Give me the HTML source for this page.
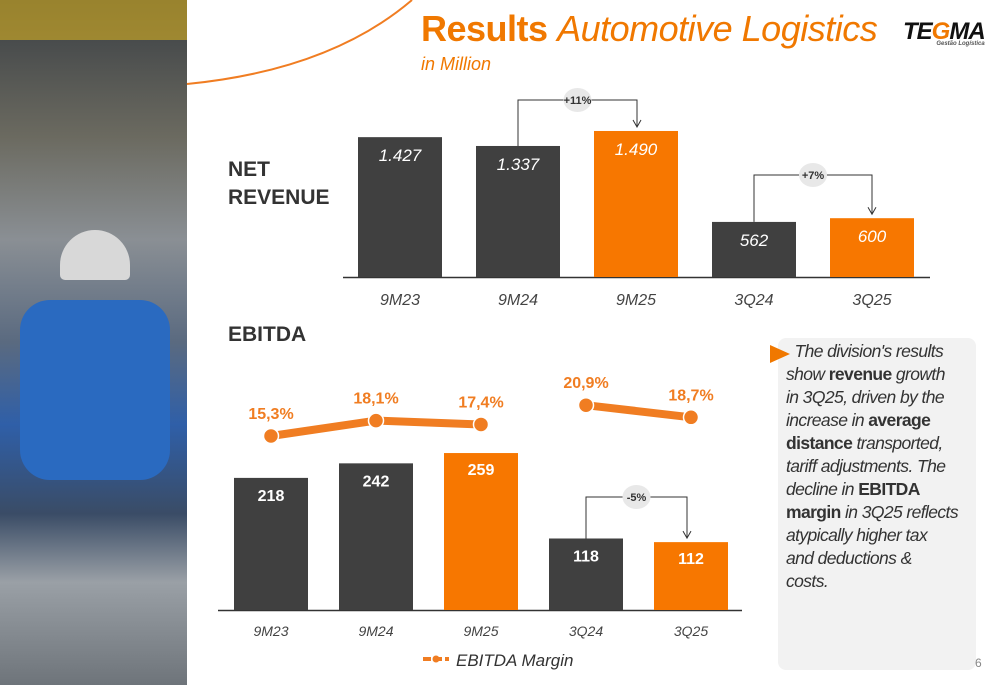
<!DOCTYPE html>
<html><head><meta charset="utf-8"><style>
body{margin:0;width:1000px;height:685px;overflow:hidden;background:#fff;font-family:"Liberation Sans",sans-serif;position:relative}
.abs{position:absolute}
</style></head><body>
<div class="abs" style="left:0;top:0;width:187px;height:685px;background:linear-gradient(180deg,#3a3f44 0%,#6b6a60 20%,#8a8f94 35%,#5a6a80 50%,#2f5fa8 62%,#3a4c66 75%,#9aa0a6 85%,#6e747a 100%)">
 <div class="abs" style="left:60px;top:230px;width:70px;height:50px;border-radius:35px 35px 5px 5px;background:#d8d8d8"></div>
 <div class="abs" style="left:20px;top:300px;width:150px;height:180px;background:#2a6ac0;border-radius:30px"></div>
 <div class="abs" style="left:0;top:0;width:187px;height:40px;background:#d8b020;opacity:.6"></div>
</div>
<svg class="abs" style="left:0;top:0" width="1000" height="685">
 <path d="M187 84 Q330 70 412 0" fill="none" stroke="#f07d22" stroke-width="2"/>
 <g id="rev"></g><g id="ebit"></g>
</svg>
<div class="abs" style="left:421px;top:8px;font-size:36px;color:#f07800;white-space:nowrap;letter-spacing:-0.5px"><b>Results</b> <i>Automotive Logistics</i></div>
<div class="abs" style="left:421px;top:54px;font-size:18px;color:#f07800;font-style:italic">in Million</div>
<div class="abs" style="left:903px;top:18px;font-size:24px;font-weight:bold;font-style:italic;color:#111;letter-spacing:-1px">TE<span style="color:#f07800">G</span>MA<div style="font-size:6px;color:#555;text-align:right;letter-spacing:0;margin-top:-5px">Gestão Logística</div></div>
<div class="abs" style="left:228px;top:156px;font-size:21px;font-weight:bold;color:#333;line-height:28px">NET<br>REVENUE</div>
<div class="abs" style="left:228px;top:323px;font-size:21px;font-weight:bold;color:#333">EBITDA</div>
<div class="abs" style="left:778px;top:338px;width:198px;height:332px;background:#f2f2f2;border-radius:8px"></div>
<div class="abs" style="left:770px;top:345px;width:0;height:0;border-left:20px solid #f07800;border-top:9px solid transparent;border-bottom:9px solid transparent"></div>
<div class="abs" style="left:786px;top:340px;width:200px;font-size:17.5px;font-style:italic;color:#333;line-height:23px;letter-spacing:-0.6px;white-space:nowrap">&nbsp;&nbsp;The division's results<br>show <b style="font-style:normal">revenue</b> growth<br>in 3Q25, driven by the<br>increase in <b style="font-style:normal">average</b><br><b style="font-style:normal">distance</b> transported,<br>tariff adjustments. The<br>decline in <b style="font-style:normal">EBITDA</b><br><b style="font-style:normal">margin</b> in 3Q25 reflects<br>atypically higher tax<br>and deductions &amp;<br>costs.</div>
<div class="abs" style="left:975px;top:656px;font-size:12px;color:#888">6</div>
<script>
const cats=["9M23","9M24","9M25","3Q24","3Q25"];
const revenue=[1427,1337,1490,562,600];
const revLabels=["1.427","1.337","1.490","562","600"];
const ebitda=[218,242,259,118,112];
const margin=[15.3,18.1,17.4,20.9,18.7];
const marginLabels=["15,3%","18,1%","17,4%","20,9%","18,7%"];
const colors=["#404040","#404040","#f77700","#404040","#f77700"];
const NS="http://www.w3.org/2000/svg";
function mk(p,t,a){const e=document.createElementNS(NS,t);for(const k in a)e.setAttribute(k,a[k]);p.appendChild(e);return e;}
const rg=document.getElementById('rev');
const rx=i=>400+i*118, ry=v=>277-v*0.098;
const ln=mk(rg,'line',{x1:343,x2:930,y1:277.5,y2:277.5,stroke:'#333','stroke-width':1.5});

revenue.forEach((v,i)=>{
 const r=mk(rg,'rect',{x:rx(i)-42,y:ry(v),width:84,height:277-ry(v),fill:colors[i]});
 
 const t=mk(rg,'text',{x:rx(i),y:ry(v)+24,'text-anchor':'middle',fill:'#fff','font-size':17,'font-style':'italic'});t.textContent=revLabels[i];
 
 const c=mk(rg,'text',{x:rx(i),y:305,'text-anchor':'middle',fill:'#444','font-size':16,'font-style':'italic'});c.textContent=cats[i];
 
});
function bracket(g,x1,y1,x2,y2,top,label){
 mk(g,'path',{d:`M${x1} ${y1} V${top} H${x2} V${y2-2}`,fill:'none',stroke:'#333','stroke-width':1});
 mk(g,'path',{d:`M${x2-4} ${y2-8} L${x2} ${y2-1} L${x2+4} ${y2-8}`,fill:'none',stroke:'#333','stroke-width':1});
 const cx=(x1+x2)/2;
 mk(g,'ellipse',{cx:cx,cy:top,rx:14,ry:12,fill:'#e8e8e8'});
 const t=mk(g,'text',{x:cx,y:top+4,'text-anchor':'middle','font-size':11,'font-weight':'bold',fill:'#333'});t.textContent=label;
 
}
bracket(rg,rx(1),ry(revenue[1]),rx(2)+1,ry(revenue[2])-3,100,'+11%');
bracket(rg,rx(3),ry(revenue[3]),rx(4),ry(revenue[4])-3,175,'+7%');
const eg=document.getElementById('ebit');
const ex=i=>271+i*105, ey=v=>610-v*0.606, my=v=>436-(v-15.3)*5.5;
const el2=mk(eg,'line',{x1:218,x2:742,y1:610.5,y2:610.5,stroke:'#333','stroke-width':1.5});

ebitda.forEach((v,i)=>{
 const r=mk(eg,'rect',{x:ex(i)-37,y:ey(v),width:74,height:610-ey(v),fill:colors[i]});
 
 const t=mk(eg,'text',{x:ex(i),y:ey(v)+(colors[i]=='#f77700'?22:23),'text-anchor':'middle',fill:'#fff','font-size':16,'font-weight':'bold'});t.textContent=v;
 
 const c=mk(eg,'text',{x:ex(i),y:636,'text-anchor':'middle',fill:'#444','font-size':14,'font-style':'italic'});c.textContent=cats[i];
 
});
bracket(eg,ex(3),ey(ebitda[3]),ex(4)-4,ey(ebitda[4])-3,497,'-5%');
[[0,1,2],[3,4]].forEach(seg=>{
 const p=mk(eg,'polyline',{points:seg.map(i=>ex(i)+','+my(margin[i])).join(' '),fill:'none',stroke:'#f07d22','stroke-width':8});
 
});
margin.forEach((v,i)=>{
 const c=mk(eg,'circle',{cx:ex(i),cy:my(v),r:7.5,fill:'#f07d22',stroke:'#fff','stroke-width':1.5});
 
 const t=mk(eg,'text',{x:ex(i),y:my(v)-17,'text-anchor':'middle',fill:'#f07d22','font-size':16,'font-weight':'bold'});t.textContent=marginLabels[i];
 
});
const lg=mk(eg,'g',{});

mk(lg,'line',{x1:423,x2:449,y1:659,y2:659,stroke:'#f07d22','stroke-width':4,'stroke-dasharray':'8 3'});
mk(lg,'circle',{cx:436,cy:659,r:3.5,fill:'#f07d22'});
const lt=mk(lg,'text',{x:456,y:666,'font-size':17,'font-style':'italic',fill:'#333'});lt.textContent='EBITDA Margin';
</script>
</body></html>
